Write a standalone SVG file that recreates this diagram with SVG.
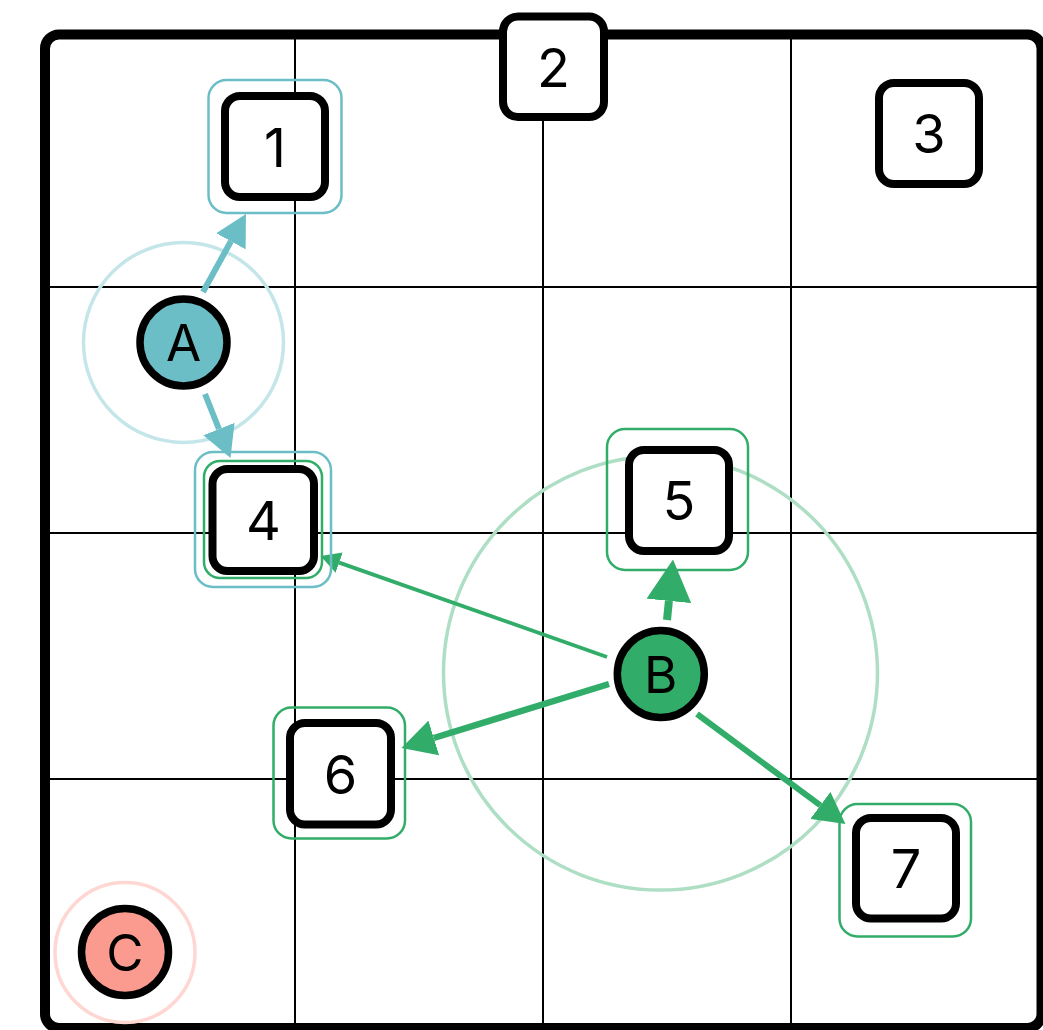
<svg xmlns="http://www.w3.org/2000/svg" width="1043" height="1030" viewBox="0 0 1043 1030">
<style>
.grid{stroke:#000;stroke-width:2;fill:none}
.box{fill:#fff;stroke:#000;stroke-width:8}
.ring{fill:none;stroke-width:2.5}
.teal{stroke:#6cbec6}
.green{stroke:#32ad69}
.lbl{font-family:Inter,"Liberation Sans",sans-serif;font-size:54px;fill:#000;text-anchor:middle}
.clbl{font-family:Inter,"Liberation Sans",sans-serif;font-size:51px;fill:#000;text-anchor:middle}
.circ{stroke:#000;stroke-width:7.5}
.halo{fill:none;stroke-width:3.5}
.edge{fill:none}
</style>
<defs>
<marker id="ahT" viewBox="0 0 10 10" refX="0" refY="5" markerWidth="5.2" markerHeight="5.6" orient="auto" preserveAspectRatio="none"><path d="M0,0 L10,5 L0,10 z" fill="#6cbec6"/></marker>
<marker id="ahG" viewBox="0 0 10 10" refX="0" refY="5" markerWidth="5.2" markerHeight="5.6" orient="auto" preserveAspectRatio="none"><path d="M0,0 L10,5 L0,10 z" fill="#32ad69"/></marker>
</defs>
<rect width="1043" height="1030" fill="#fff"/>
<g id="grid">
<line class="grid" x1="295" y1="34" x2="295" y2="1028"/>
<line class="grid" x1="543" y1="34" x2="543" y2="1028"/>
<line class="grid" x1="791" y1="34" x2="791" y2="1028"/>
<line class="grid" x1="45" y1="287" x2="1041" y2="287"/>
<line class="grid" x1="45" y1="533" x2="1041" y2="533"/>
<line class="grid" x1="45" y1="779" x2="1041" y2="779"/>
</g>
<rect id="frame" x="45" y="34.5" width="996.5" height="993.5" rx="14" fill="none" stroke="#000" stroke-width="10"/>
<g id="halos">
<circle class="halo" cx="183.5" cy="342.5" r="100" stroke="#c4e6e9"/>
<circle class="halo" cx="660.5" cy="673" r="217" stroke="#aedfc4"/>
<circle class="halo" cx="125" cy="952.5" r="70" stroke="#ffd7d2"/>
</g>
<g id="connectors">
<line class="edge" x1="203" y1="292" x2="230.9" y2="241.3" stroke="#6cbec6" stroke-width="6" marker-end="url(#ahT)"/>
<line class="edge" x1="205" y1="394" x2="218.95" y2="429" stroke="#6cbec6" stroke-width="6" marker-end="url(#ahT)"/>
<line class="edge" x1="667" y1="620" x2="668.9" y2="600.9" stroke="#32ad69" stroke-width="8" marker-end="url(#ahG)"/>
<line class="edge" x1="607" y1="657" x2="339.2" y2="562.6" stroke="#32ad69" stroke-width="3.8" marker-end="url(#ahG)"/>
<line class="edge" x1="609" y1="684" x2="433.8" y2="738" stroke="#32ad69" stroke-width="6.5" marker-end="url(#ahG)"/>
<line class="edge" x1="697" y1="714" x2="820.4" y2="805.4" stroke="#32ad69" stroke-width="6" marker-end="url(#ahG)"/>
</g>
<g id="node-1">
<rect class="ring teal" x="208.5" y="80" width="133" height="133" rx="18"/>
<rect class="box" x="225" y="96" width="100" height="101" rx="15"/>
<text class="lbl" x="275" y="166.5">1</text>
</g>
<g id="node-2">
<rect class="box" x="503" y="16.5" width="101" height="100.5" rx="15"/>
<text class="lbl" x="553.5" y="86.5">2</text>
</g>
<g id="node-3">
<rect class="box" x="879" y="83" width="100" height="101" rx="15"/>
<text class="lbl" x="929" y="153">3</text>
</g>
<g id="node-4">
<rect class="ring teal" x="195" y="452" width="136" height="135" rx="18"/>
<rect class="ring green" x="204" y="461" width="118" height="117" rx="16"/>
<rect class="box" x="212.5" y="469" width="101.5" height="102" rx="15"/>
<text class="lbl" x="263.5" y="539.5">4</text>
</g>
<g id="node-5">
<rect class="ring green" x="607" y="429" width="141" height="141" rx="18"/>
<rect class="box" x="629" y="450" width="100" height="101" rx="15"/>
<text class="lbl" x="679" y="520">5</text>
</g>
<g id="node-6">
<rect class="ring green" x="273.5" y="707.5" width="131.5" height="131" rx="18"/>
<rect class="box" x="290" y="723" width="101" height="101.5" rx="15"/>
<text class="lbl" x="340.5" y="793.5">6</text>
</g>
<g id="node-7">
<rect class="ring green" x="839.5" y="804" width="131.5" height="132.5" rx="18"/>
<rect class="box" x="856" y="818" width="100" height="100.5" rx="15"/>
<text class="lbl" x="906" y="887.5">7</text>
</g>
<g id="node-A">
<circle class="circ" cx="183.5" cy="342.5" r="43.5" fill="#6cbec6"/>
<text class="clbl" x="183.5" y="361">A</text>
</g>
<g id="node-B">
<circle class="circ" cx="660.8" cy="674" r="43.5" fill="#32ad69"/>
<text class="clbl" x="660.8" y="692.5">B</text>
</g>
<g id="node-C">
<circle class="circ" cx="125" cy="952" r="43.5" fill="#fb9a8f"/>
<text class="clbl" x="125" y="970.5">C</text>
</g>
</svg>
